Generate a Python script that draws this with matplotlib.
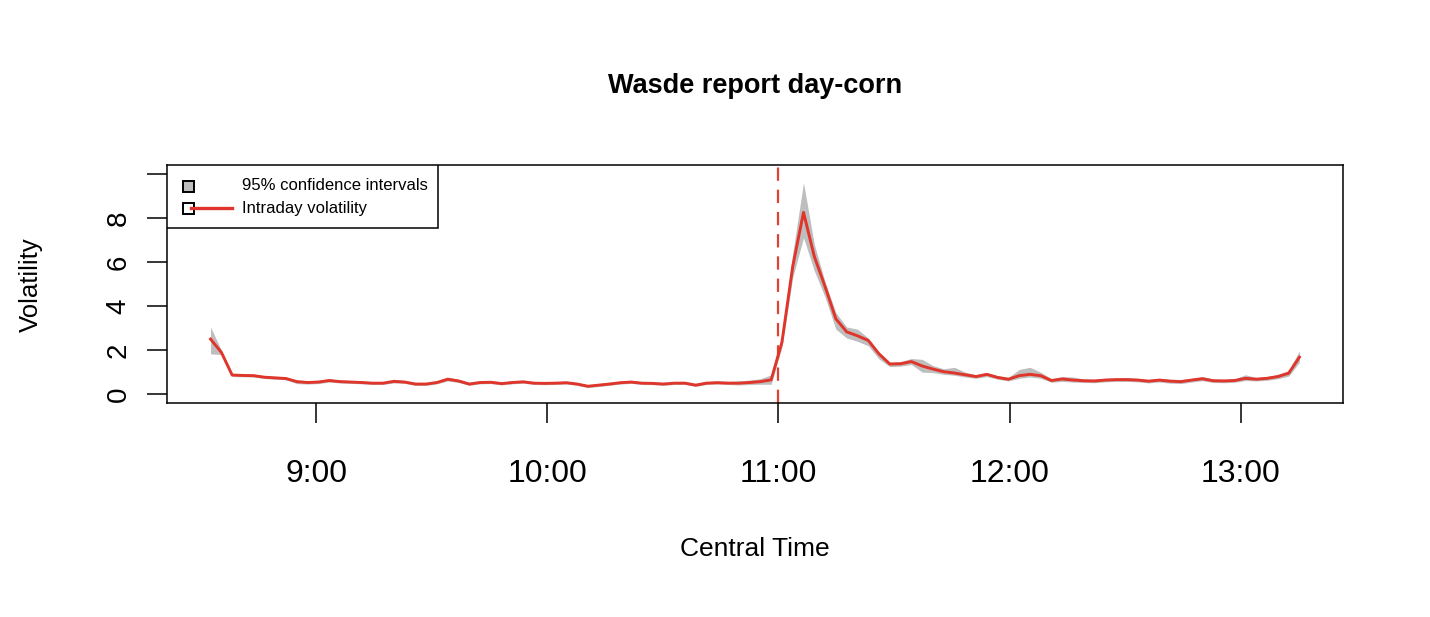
import numpy as np
import matplotlib
matplotlib.use("Agg")
import matplotlib.pyplot as plt
from matplotlib.patches import Rectangle
from matplotlib.lines import Line2D

plt.rcParams['font.family'] = ['Liberation Sans', 'DejaVu Sans']

# ---- data -------------------------------------------------------------
start_hour = 8 + 32.5 / 60.0      # first observation (Central Time)
step_hour = 2.8 / 60.0            # spacing between observations

volatility = [
    2.50, 1.90, 0.87, 0.85, 0.84, 0.77, 0.74, 0.71, 0.57, 0.53,
    0.55, 0.62, 0.57, 0.55, 0.53, 0.50, 0.50, 0.58, 0.55, 0.46,
    0.46, 0.53, 0.68, 0.60, 0.46, 0.53, 0.54, 0.48, 0.53, 0.56,
    0.50, 0.49, 0.50, 0.52, 0.46, 0.36, 0.41, 0.46, 0.52, 0.55,
    0.50, 0.49, 0.46, 0.50, 0.50, 0.41, 0.50, 0.52, 0.50, 0.50,
    0.53, 0.57, 0.65, 2.36, 5.80, 8.25, 6.25, 4.88, 3.42, 2.83,
    2.65, 2.44, 1.83, 1.37, 1.38, 1.48, 1.28, 1.14, 1.02, 0.96,
    0.88, 0.80, 0.90, 0.76, 0.68, 0.84, 0.90, 0.84, 0.62, 0.69,
    0.64, 0.61, 0.60, 0.64, 0.66, 0.66, 0.64, 0.59, 0.64, 0.59,
    0.57, 0.64, 0.70, 0.61, 0.60, 0.62, 0.72, 0.68, 0.72, 0.80,
    0.95, 1.68,
]
ci_lower = [
    1.83, 1.80, 0.80, 0.79, 0.78, 0.71, 0.68, 0.65, 0.48, 0.46,
    0.48, 0.55, 0.51, 0.49, 0.47, 0.44, 0.44, 0.51, 0.49, 0.40,
    0.40, 0.47, 0.60, 0.53, 0.40, 0.47, 0.48, 0.42, 0.47, 0.50,
    0.44, 0.43, 0.44, 0.46, 0.40, 0.30, 0.35, 0.40, 0.46, 0.49,
    0.44, 0.43, 0.40, 0.44, 0.44, 0.35, 0.44, 0.46, 0.44, 0.42,
    0.44, 0.45, 0.45, 2.15, 5.30, 7.10, 5.60, 4.40, 2.95, 2.55,
    2.40, 2.20, 1.60, 1.25, 1.27, 1.35, 1.00, 0.98, 0.90, 0.86,
    0.78, 0.72, 0.80, 0.68, 0.60, 0.72, 0.78, 0.72, 0.54, 0.58,
    0.55, 0.53, 0.52, 0.56, 0.58, 0.58, 0.56, 0.51, 0.55, 0.50,
    0.48, 0.55, 0.61, 0.53, 0.52, 0.54, 0.62, 0.60, 0.63, 0.70,
    0.82, 1.45,
]
ci_upper = [
    3.05, 2.00, 0.94, 0.92, 0.91, 0.84, 0.81, 0.78, 0.64, 0.61,
    0.63, 0.70, 0.64, 0.62, 0.60, 0.57, 0.57, 0.68, 0.62, 0.53,
    0.53, 0.60, 0.76, 0.68, 0.53, 0.60, 0.61, 0.55, 0.60, 0.63,
    0.57, 0.56, 0.57, 0.59, 0.53, 0.43, 0.48, 0.53, 0.59, 0.62,
    0.57, 0.56, 0.53, 0.57, 0.57, 0.48, 0.57, 0.60, 0.58, 0.60,
    0.64, 0.70, 0.88, 2.55, 6.40, 9.60, 6.80, 5.10, 3.70, 3.05,
    2.95, 2.55, 1.90, 1.45, 1.48, 1.62, 1.58, 1.30, 1.15, 1.22,
    1.00, 0.88, 0.98, 0.84, 0.76, 1.12, 1.22, 1.00, 0.70, 0.80,
    0.78, 0.69, 0.68, 0.72, 0.74, 0.76, 0.72, 0.67, 0.72, 0.68,
    0.66, 0.72, 0.80, 0.69, 0.68, 0.70, 0.88, 0.76, 0.80, 0.90,
    1.08, 1.97,
]
x_tick_hours = [9, 10, 11, 12, 13]
x_tick_labels = ["9:00", "10:00", "11:00", "12:00", "13:00"]
y_ticks = [0, 2, 4, 6, 8, 10]
y_tick_labels = ["0", "2", "4", "6", "8", ""]
report_hour = 11

times = start_hour + step_hour * np.arange(len(volatility))

# ---- figure -----------------------------------------------------------
W, H = 1430, 617
fig = plt.figure(figsize=(W / 100, H / 100), dpi=100)
ax = fig.add_axes([167 / W, (H - 403) / H, 1176 / W, 238 / H])

ax.fill_between(times, ci_lower, ci_upper, color='#BEBEBE', lw=0, zorder=1)
ax.plot(times, volatility, color='#E0352A', lw=2.1, zorder=3,
        solid_joinstyle='round')
ax.axvline(report_hour, color='#DE4233', lw=1.6, dashes=(6, 4), zorder=2)

span = times[-1] - times[0]
ax.set_xlim(times[0] - 0.04 * span, times[-1] + 0.04 * span)
ax.set_ylim(-0.4, 10.4)

ax.set_xticks(x_tick_hours)
ax.set_xticklabels(x_tick_labels, fontsize=23)
ax.set_yticks(y_ticks)
ax.set_yticklabels(y_tick_labels, fontsize=20, rotation=90, va='center')
ax.tick_params(axis='x', length=14.5, width=1.1, pad=26)
ax.tick_params(axis='y', length=14.5, width=1.1, pad=11)
for s in ax.spines.values():
    s.set_linewidth(1.1)

# legend (R style, top-left)
lx0, ly0 = 0.0, (403 - 228) / 238
lw_ = (438 - 167) / 1176
ax.add_patch(Rectangle((lx0, ly0), lw_, 1 - ly0, transform=ax.transAxes,
                       facecolor='white', edgecolor='black', lw=1.1, zorder=5))

def ax_xy(px, py):
    return ((px - 167) / 1176, (403 - py) / 238)

sq = 11
for (py, fc) in [(186, '#BEBEBE'), (208, 'white')]:
    x0, y0 = ax_xy(188 - sq / 2, py + sq / 2)
    ax.add_patch(Rectangle((x0, y0), sq / 1176, sq / 238, transform=ax.transAxes,
                           facecolor=fc, edgecolor='black', lw=1.4, zorder=6))
xa, ya = ax_xy(191, 208)
xb, _ = ax_xy(232, 208)
ax.add_line(Line2D([xa, xb], [ya, ya], transform=ax.transAxes,
                   color='#E0352A', lw=2.4, zorder=7))
for py, txt in [(186, "95% confidence intervals"), (208, "Intraday volatility")]:
    tx, ty = ax_xy(242, py)
    ax.text(tx, ty, txt, transform=ax.transAxes, fontsize=12,
            va='center', ha='left', zorder=7)

fig.text(755 / W, 1 - 86 / H, "Wasde report day-corn", fontsize=19.5,
         fontweight='bold', ha='center', va='center')
fig.text(755 / W, 1 - 549 / H, "Central Time", fontsize=19, ha='center', va='center')
fig.text(31 / W, 1 - 285 / H, "Volatility", fontsize=18.5, rotation=90,
         ha='center', va='center')

fig.savefig("out.png", dpi=100)
